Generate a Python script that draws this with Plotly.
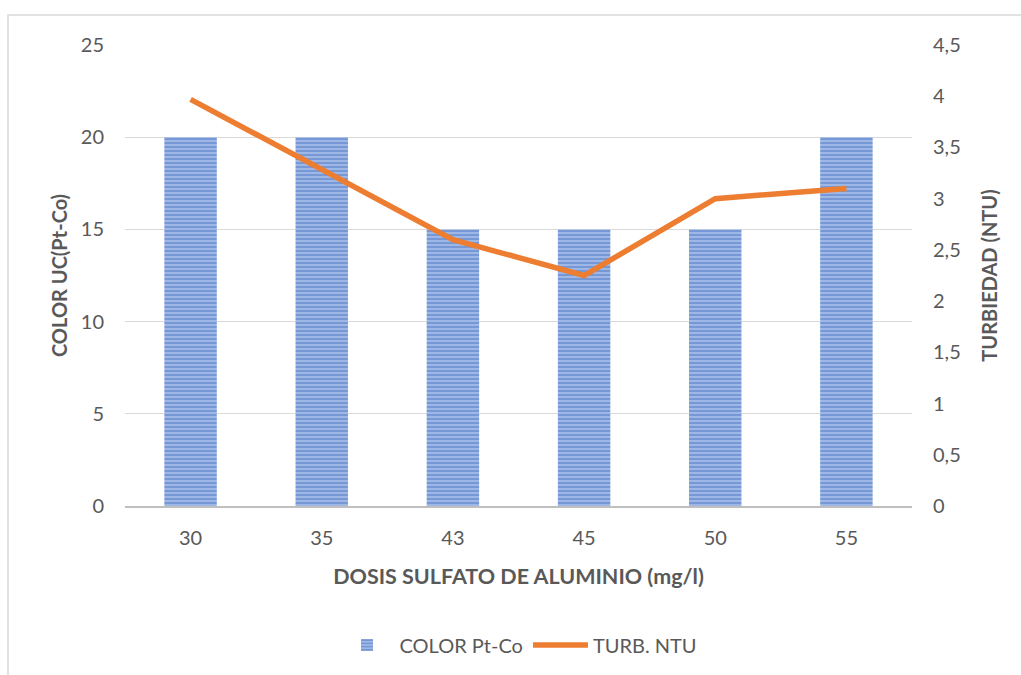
import plotly.graph_objects as go

dosis = ["30", "35", "43", "45", "50", "55"]
color_ptco = [20, 20, 15, 15, 15, 20]
turb_ntu = [3.97, 3.28, 2.6, 2.25, 3.0, 3.1]

FONT = "Lato"
GRAY = "#595959"
TS = 20

fig = go.Figure()
fig.add_trace(go.Bar(
    x=dosis, y=color_ptco, name="COLOR Pt-Co",
    marker=dict(color="#A9BEE8", line=dict(width=0),
                pattern=dict(shape="-", fgcolor="#4472C4", size=4, solidity=0.6)),
    width=0.4,
))
fig.add_trace(go.Scatter(
    x=dosis, y=turb_ntu, name="TURB. NTU", yaxis="y2", mode="lines",
    line=dict(color="#ED7D31", width=5.5),
))

L, R, T, B = 125, 912, 45, 507
W, H = 1021, 675
pw, ph = R - L, B - T

fig.update_layout(
    width=W, height=H,
    margin=dict(l=L, r=W - R, t=T, b=H - B),
    paper_bgcolor="white", plot_bgcolor="white",
    separators=",.",
    font=dict(family=FONT, color=GRAY, size=TS),
    bargap=0.6,
    xaxis=dict(
        type="category", showgrid=False, showline=True, linecolor="#BFBFBF", linewidth=2,
        ticks="", tickfont=dict(size=TS, color=GRAY), ticklabelstandoff=13,
        title=dict(text="<b>DOSIS SULFATO DE ALUMINIO (mg/l)</b>", font=dict(size=21.5, color=GRAY), standoff=21),
    ),
    yaxis=dict(
        range=[0, 25], dtick=5, showgrid=True, gridcolor="#D9D9D9", gridwidth=1,
        zeroline=False, showline=False, ticks="", ticklabelstandoff=20,
        tickfont=dict(size=TS, color=GRAY),
        title=dict(text="<b>COLOR UC(Pt-Co)</b>", font=dict(size=TS, color=GRAY), standoff=7),
    ),
    yaxis2=dict(
        range=[0, 4.5], dtick=0.5, overlaying="y", side="right", showgrid=False,
        zeroline=False, showline=False, ticks="", ticklabelstandoff=20,
        tickfont=dict(size=TS, color=GRAY),
        title=dict(text="<b>TURBIEDAD (NTU)</b>", font=dict(size=TS, color=GRAY), standoff=23),
    ),
    legend=dict(orientation="h", x=0.5, xanchor="center", y=(B - 645) / ph, yanchor="middle",
                font=dict(size=TS, color=GRAY), itemwidth=55, traceorder="normal"),
    showlegend=True,
)

fig.add_shape(type="rect", xref="paper", yref="paper",
              x0=(8 - L) / pw, x1=(W + 5 - L) / pw,
              y0=(B - (H + 5)) / ph, y1=(B - 15) / ph,
              line=dict(color="#D9D9D9", width=1.5), fillcolor="rgba(0,0,0,0)", layer="below")

fig.write_html("out.html")
